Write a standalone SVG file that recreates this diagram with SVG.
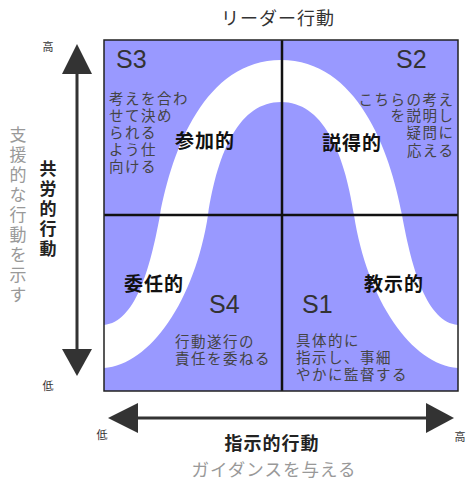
<svg xmlns="http://www.w3.org/2000/svg" width="466" height="482" viewBox="0 0 466 482">
<style>
  .jp { font-family: "Noto Sans CJK JP", "Noto Sans", sans-serif; }
  .title { font-size: 18px; fill: #333; letter-spacing: 1px; }
  .desc { font-size: 14.5px; fill: #444; letter-spacing: 1.5px; }
  .lab { font-size: 19px; font-weight: bold; fill: #111; letter-spacing: 1px; }
  .s { font-family: "Liberation Sans", Arial, sans-serif; font-size: 25px; fill: #333; }
  .small { font-size: 11px; fill: #333; }
  .axis { stroke: #333; stroke-width: 3; fill: none; }
  .head { fill: #333; }
  .grid { stroke: #111; stroke-width: 2.5; }
  .gray { fill: #999; }
</style>
<defs>
  <clipPath id="boxclip"><rect x="104" y="40" width="354" height="351"/></clipPath>
</defs>

<g id="quadrant-box">
  <rect x="104" y="40" width="354" height="351" fill="#9999ff"/>
  <path clip-path="url(#boxclip)" fill="#ffffff" d="M100,325 L104,325 C135,322 150,270 160,215 C172,150 205,60 281,60 C357,60 390,150 402,215 C412,270 427,322 458,325 L462,325 L462,368 L458,368 C412,365 367,300 354,215 C344,150 322,102 281,102 C240,102 218,150 208,215 C195,300 150,365 104,368 L100,368 Z"/>
  <line class="grid" x1="282" y1="40" x2="282" y2="391"/>
  <line class="grid" x1="104" y1="215" x2="458" y2="215"/>
  <rect x="104" y="40" width="354" height="351" fill="none" stroke="#222" stroke-width="1.5"/>
</g>

<g id="title"><text class="jp title" x="278" y="25" text-anchor="middle">リーダー行動</text></g>

<g id="S3">
  <text class="s" x="116" y="68">S3</text>
  <text class="jp desc"><tspan x="109" y="104">考えを合わ</tspan><tspan x="109" y="121">せて決め</tspan><tspan x="109" y="138">られる</tspan><tspan x="109" y="155">よう仕</tspan><tspan x="109" y="172">向ける</tspan></text>
  <text class="jp lab" x="175" y="148">参加的</text>
</g>

<g id="S2">
  <text class="s" x="396" y="68">S2</text>
  <text class="jp desc" text-anchor="end"><tspan x="454.5" y="105">こちらの考え</tspan><tspan x="454.5" y="121">を説明し</tspan><tspan x="454.5" y="138">疑問に</tspan><tspan x="454.5" y="156">応える</tspan></text>
  <text class="jp lab" x="322" y="150">説得的</text>
</g>

<g id="S4">
  <text class="jp lab" x="124" y="291">委任的</text>
  <text class="s" x="209" y="313">S4</text>
  <text class="jp desc"><tspan x="175" y="347">行動遂行の</tspan><tspan x="175" y="364">責任を委ねる</tspan></text>
</g>

<g id="S1">
  <text class="jp lab" x="364" y="291">教示的</text>
  <text class="s" x="302" y="313">S1</text>
  <text class="jp desc"><tspan x="296" y="346">具体的に</tspan><tspan x="296" y="363">指示し、事細</tspan><tspan x="296" y="380">やかに監督する</tspan></text>
</g>

<g id="connectors">
  <line class="axis" x1="77" y1="70" x2="77" y2="352"/>
  <polygon class="head" points="77,44 62,74 92,74"/>
  <polygon class="head" points="77,376 62,349 92,349"/>
  <line class="axis" x1="135" y1="418" x2="430" y2="418"/>
  <polygon class="head" points="108,418 138,403 138,433"/>
  <polygon class="head" points="454,418 426,403 426,433"/>
</g>

<g id="vertical-axis-labels">
  <text class="jp small" x="48" y="51" text-anchor="middle">高</text>
  <text class="jp small" x="48" y="390" text-anchor="middle">低</text>
  <text class="jp" x="48" y="160" style="writing-mode: vertical-rl; font-size:17px; font-weight:bold; fill:#222; letter-spacing:3px;">共労的行動</text>
  <text class="jp gray" x="18" y="126" style="writing-mode: vertical-rl; font-size:17px; letter-spacing:3px;">支援的な行動を示す</text>
</g>

<g id="horizontal-axis-labels">
  <text class="jp small" x="102" y="439" text-anchor="middle">低</text>
  <text class="jp small" x="460" y="441" text-anchor="middle">高</text>
  <text class="jp" x="272" y="450" text-anchor="middle" style="font-size:18px; font-weight:bold; fill:#222; letter-spacing:1px;">指示的行動</text>
  <text class="jp gray" x="274" y="476" text-anchor="middle" style="font-size:17.5px; letter-spacing:1px;">ガイダンスを与える</text>
</g>
</svg>
